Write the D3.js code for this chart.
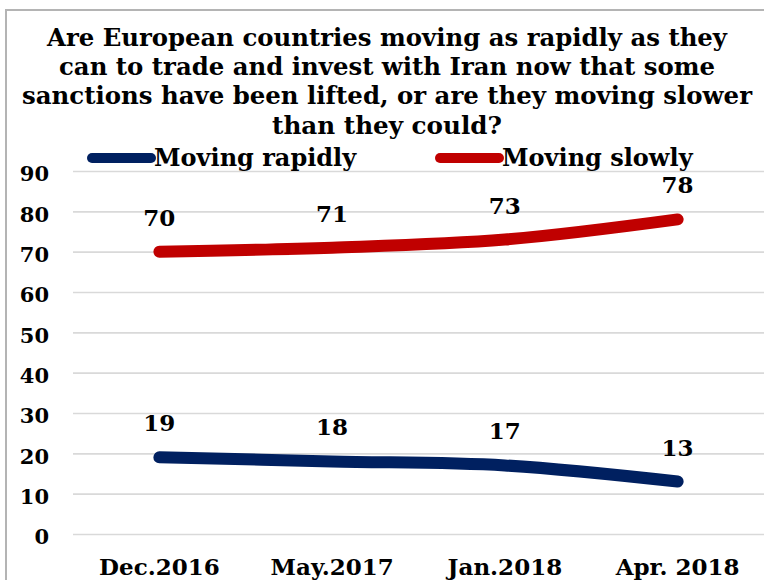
<!DOCTYPE html>
<html>
<head>
<meta charset="utf-8">
<script src="https://cdn.jsdelivr.net/npm/d3@7/dist/d3.min.js"></script>
<style>
  html, body { margin: 0; padding: 0; background: #fff; }
  svg { display: block; }
  text { font-family: "DejaVu Serif", "Liberation Serif", serif; font-weight: bold; fill: #000; }
</style>
</head>
<body>
<script>
// Survey waves and the share of answers for each option
const periods = ["Dec.2016", "May.2017", "Jan.2018", "Apr. 2018"];
const movingRapidly = [19, 18, 17, 13];
const movingSlowly = [70, 71, 73, 78];
const yTicks = [0, 10, 20, 30, 40, 50, 60, 70, 80, 90];
const titleLines = [
  "Are European countries moving as rapidly as they",
  "can to trade and invest with Iran now that some",
  "sanctions have been lifted, or are they moving slower",
  "than they could?"
];
const seriesNames = ["Moving rapidly", "Moving slowly"];

const W = 764, H = 580;
const margin = { left: 73, right: 0 };
const colors = ["#002060", "#C00000"];

const svg = d3.select("body").append("svg")
  .attr("width", W).attr("height", H);

svg.append("rect").attr("width", W).attr("height", H).attr("fill", "#fff");

// outer frame
svg.append("rect")
  .attr("x", 6).attr("y", 10)
  .attr("width", W + 20).attr("height", H + 20)
  .attr("fill", "none").attr("stroke", "#b4b4b4").attr("stroke-width", 2);

const x = d3.scaleBand()
  .domain(periods)
  .range([margin.left, W - margin.right])
  .padding(0);

const y = d3.scaleLinear()
  .domain([0, 90])
  .range([534, 171]);

// title
const titleWidths = [680, 656, 730, 230];
svg.append("g").selectAll("text")
  .data(titleLines)
  .join("text")
  .attr("x", 387)
  .attr("y", (d, i) => 46 + i * 29.2)
  .attr("text-anchor", "middle")
  .attr("font-size", 25)
  .attr("textLength", (d, i) => titleWidths[i])
  .attr("lengthAdjust", "spacingAndGlyphs")
  .text(d => d);

// gridlines and value axis
const yAxis = d3.axisLeft(y).tickValues(yTicks).tickSize(-(W - margin.left)).tickFormat(d3.format("d"));
const gy = svg.append("g")
  .attr("transform", `translate(${margin.left},0)`)
  .call(yAxis);
gy.select(".domain").remove();
gy.selectAll(".tick line").attr("stroke", "#d9d9d9").attr("stroke-width", 1.6);
gy.selectAll(".tick text")
  .attr("x", 49 - margin.left)
  .attr("dy", "0.32em")
  .attr("transform", "translate(0,3)")
  .attr("text-anchor", "end")
  .attr("font-size", 21)
  .attr("font-family", "DejaVu Serif")
  .attr("font-weight", "bold")
  .attr("fill", "#000");

// category axis
const xAxis = d3.axisBottom(x).tickSize(0);
const gx = svg.append("g")
  .attr("transform", `translate(0,${y(0)})`)
  .call(xAxis);
gx.select(".domain").remove();
gx.selectAll(".tick text")
  .attr("y", 41)
  .attr("dy", 0)
  .attr("font-size", 23)
  .attr("font-family", "DejaVu Serif")
  .attr("font-weight", "bold")
  .attr("fill", "#000");

// lines
const cx = d => x(d) + x.bandwidth() / 2;
const line = d3.line()
  .x((d, i) => cx(periods[i]))
  .y(d => y(d))
  .curve(d3.curveCardinal.tension(0));

const series = [movingRapidly, movingSlowly];
svg.append("g").selectAll("path")
  .data(series)
  .join("path")
  .attr("d", d => line(d))
  .attr("fill", "none")
  .attr("stroke", (d, i) => colors[i])
  .attr("stroke-width", 12)
  .attr("stroke-linecap", "round")
  .attr("stroke-linejoin", "round");

// value labels
series.forEach(vals => {
  svg.append("g").selectAll("text")
    .data(vals)
    .join("text")
    .attr("x", (d, i) => cx(periods[i]))
    .attr("y", d => y(d) - 26)
    .attr("text-anchor", "middle")
    .attr("font-size", 23)
    .text(d => d);
});

// legend
const legendX = [92, 440];
const lg = svg.append("g").selectAll("g")
  .data(seriesNames)
  .join("g")
  .attr("transform", (d, i) => `translate(${legendX[i]},158)`);
lg.append("line")
  .attr("x1", 0).attr("x2", 59)
  .attr("y1", 0).attr("y2", 0)
  .attr("stroke", (d, i) => colors[i])
  .attr("stroke-width", 10)
  .attr("stroke-linecap", "round");
lg.append("text")
  .attr("x", 62)
  .attr("y", 8)
  .attr("font-size", 24)
  .text(d => d);
</script>
</body>
</html>
